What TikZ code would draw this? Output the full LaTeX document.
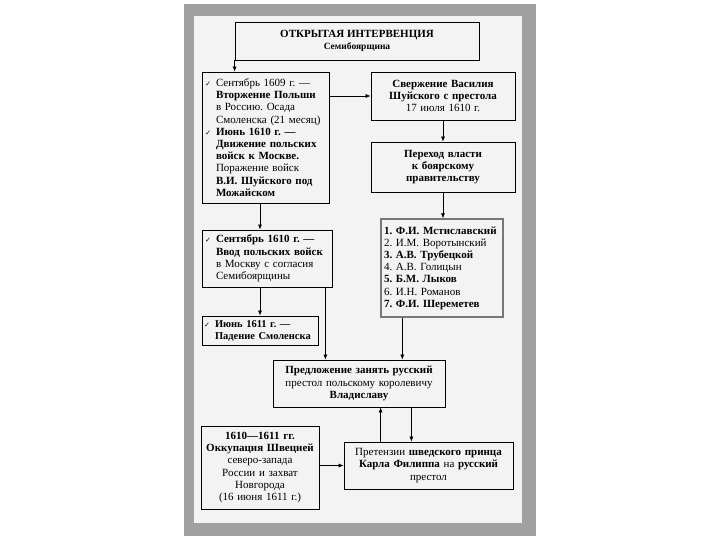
\documentclass[tikz,border=0pt]{standalone}
\usepackage{fontspec}
\setmainfont{Liberation Serif}
\newfontfamily\symfont{DejaVu Sans}
\usetikzlibrary{arrows.meta,positioning}

\definecolor{framegray}{RGB}{160,160,160}
\definecolor{innergray}{RGB}{243,243,243}
\definecolor{listgray}{RGB}{120,120,120}

\newcommand{\chk}{\makebox[11pt][l]{{\symfont\fontsize{7}{7}\selectfont ✓}}}
\newcommand{\ind}{\hspace*{11pt}}
\frenchspacing

\begin{document}
\begin{tikzpicture}[
  x=1pt, y=-1pt,
  box/.style={draw, line width=0.8pt, inner xsep=3pt, inner ysep=2pt,
    font=\fontsize{11}{12.2}\selectfont, align=center},
  listbox/.style={box, draw=listgray, line width=1.4pt, align=left},
  arr/.style={-{Latex[length=5pt,width=4pt]}, line width=0.6pt}
]
  \useasboundingbox (0,0) rectangle (720,540);
  \fill[white] (0,0) rectangle (720,540);
  \fill[framegray] (184,4) rectangle (536,536);
  \fill[innergray] (194,16) rectangle (522,523);

  % Boxes
  \node[box, minimum width=244pt, minimum height=38pt] (title) at (357,41)
    {\fontsize{11}{13}\selectfont\bfseries ОТКРЫТАЯ ИНТЕРВЕНЦИЯ\\
     \fontsize{9.5}{11}\selectfont\bfseries Семибоярщина};
  \node[box, align=left, text width=121pt, minimum height=131pt] (sep) at (265.5,137.5)
    {\chk Сентябрь 1609 г. —\\
     \ind\textbf{Вторжение Польши}\\
     \ind в Россию. Осада\\
     \ind Смоленска (21 месяц)\\
     \chk\textbf{Июнь 1610 г. —}\\
     \ind\textbf{Движение польских}\\
     \ind\textbf{войск к Москве.}\\
     \ind Поражение войск\\
     \ind\textbf{В.И. Шуйского под}\\
     \ind\textbf{Можайском}};
  \node[box, text width=138pt, minimum height=48pt] (shuisky) at (443,96)
    {\textbf{Свержение Василия}\\ \textbf{Шуйского с престола}\\ 17 июля 1610 г.};
  \node[box, text width=138pt, minimum height=50pt] (power) at (443,167)
    {\textbf{Переход власти}\\ \textbf{к боярскому}\\ \textbf{правительству}};
  \node[listbox, text width=116pt, minimum height=98pt] (boyars) at (442,268)
    {\textbf{1. Ф.И. Мстиславский}\\
     2. И.М. Воротынский\\
     \textbf{3. А.В. Трубецкой}\\
     4. А.В. Голицын\\
     \textbf{5. Б.М. Лыков}\\
     6. И.Н. Романов\\
     \textbf{7. Ф.И. Шереметев}};
  \node[box, align=left, text width=124pt, minimum height=57pt] (moscow) at (267,258.5)
    {\chk\textbf{Сентябрь 1610 г. —}\\
     \ind\textbf{Ввод польских войск}\\
     \ind в Москву с согласия\\
     \ind Семибоярщины};
  \node[box, align=left, inner xsep=2pt, text width=112pt, minimum height=29pt,
    font=\fontsize{10.5}{12}\selectfont] (smolensk) at (260,330.5)
    {\chk\textbf{Июнь 1611 г. —}\\
     \ind\textbf{Падение Смоленска}};
  \node[box, text width=166pt, minimum height=47pt] (offer) at (359,383.5)
    {\textbf{Предложение занять русский}\\ престол польскому королевичу\\ \textbf{Владиславу}};
  \node[box, inner xsep=2pt, text width=114pt, minimum height=83pt] (sweden) at (260,467.5)
    {\textbf{1610—1611 гг.}\\ \textbf{Оккупация Швецией}\\ северо-запада\\
     России и захват\\ Новгорода\\ (16 июня 1611 г.)};
  \node[box, text width=163pt, minimum height=47pt] (claim) at (428.5,465.5)
    {Претензии \textbf{шведского принца}\\ \textbf{Карла Филиппа} на \textbf{русский}\\ престол};

  % Arrows
  \draw[arr] (title.south west) -- (title.south west |- sep.north);
  \draw[arr] (sep.east |- shuisky.west) -- (shuisky.west);
  \draw[arr] (shuisky.south) -- (power.north);
  \draw[arr] (power.south) -- (power.south |- boyars.north);
  \draw[arr] (sep.south -| smolensk.north) -- (smolensk.north |- moscow.north);
  \draw[arr] (moscow.south -| smolensk.north) -- (smolensk.north);
  \draw[arr] ([xshift=-7pt]moscow.south east) -- ([xshift=-7pt]moscow.south east |- offer.north);
  \draw[arr] ([xshift=22pt]boyars.south west) -- ([xshift=22pt]boyars.south west |- offer.north);
  \draw[arr] ([xshift=37pt]claim.north west) -- ([xshift=37pt]claim.north west |- offer.south);
  \draw[arr] ([xshift=-34pt]offer.south east) -- ([xshift=-34pt]offer.south east |- claim.north);
  \draw[arr] (sweden.east |- claim.west) -- (claim.west);

\end{tikzpicture}
\end{document}
